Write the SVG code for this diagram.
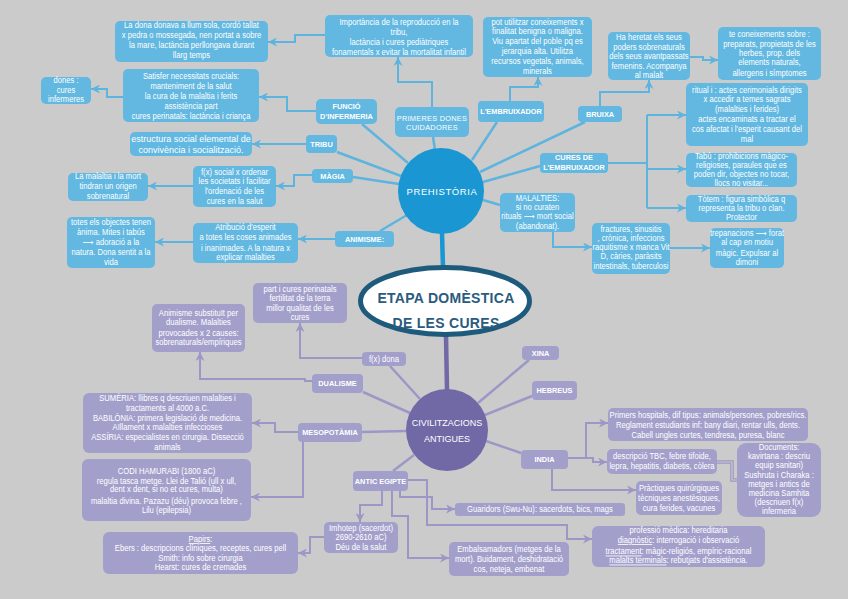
<svg xmlns="http://www.w3.org/2000/svg" width="848" height="599" viewBox="0 0 848 599">
<defs>
<style>
.bn{fill:#62b8e1}
.pn{fill:#a39fcb}
.cb{fill:none;stroke:#5db4de;stroke-width:2}
.cp{fill:none;stroke:#9c97c6;stroke-width:2}
.sb{fill:none;stroke:#5db4de;stroke-width:2.5}
.sp{fill:none;stroke:#9c97c6;stroke-width:2.5}
text{font-family:"Liberation Sans",Arial,"DejaVu Sans",sans-serif;fill:#fff;text-anchor:middle}
.t{font-size:8.3px;transform-box:fill-box;transform-origin:center;transform:scaleX(.92)}
.lb{font-size:8px;font-weight:bold;transform-box:fill-box;transform-origin:center;transform:scaleX(.92)}
.lr{font-size:8px;letter-spacing:.3px;transform-box:fill-box;transform-origin:center;transform:scaleX(.92)}
.u{text-decoration:underline}
</style>
<marker id="ab" viewBox="0 0 10 10" refX="10" refY="5" markerWidth="9" markerHeight="9" markerUnits="userSpaceOnUse" orient="auto"><path d="M0,0 L10,5 L0,10 L3,5 z" fill="#5db4de"/></marker>
<marker id="ap" viewBox="0 0 10 10" refX="10" refY="5" markerWidth="9" markerHeight="9" markerUnits="userSpaceOnUse" orient="auto"><path d="M0,0 L10,5 L0,10 L3,5 z" fill="#9c97c6"/></marker>
</defs>
<rect width="848" height="599" fill="#cbcbcb"/>

<g id="connectors">
<line class="sb" x1="435" y1="150" x2="433" y2="137"/>
<line class="sb" x1="362" y1="124" x2="408" y2="163"/>
<line class="sb" x1="337" y1="152" x2="401" y2="176"/>
<line class="sb" x1="353" y1="177" x2="399" y2="184"/>
<line class="sb" x1="380" y1="231" x2="407" y2="215"/>
<line class="sb" x1="497" y1="122" x2="472" y2="160"/>
<line class="sb" x1="585" y1="122" x2="480" y2="172"/>
<line class="sb" x1="540" y1="166" x2="483" y2="182"/>
<line class="sb" x1="500" y1="205" x2="483" y2="200"/>
<line x1="442" y1="233" x2="443" y2="268" stroke="#1a96d2" stroke-width="4.5"/>
<path class="cb" marker-end="url(#ab)" d="M432,107 V82 H398 V57"/>
<path class="cb" marker-end="url(#ab)" d="M325,35 H295 V42 H268"/>
<path class="cb" marker-end="url(#ab)" d="M316,111 H287 V97 H259"/>
<path class="cb" marker-end="url(#ab)" d="M123,97 H107 V89 H91"/>
<path class="cb" marker-end="url(#ab)" d="M306,144 H252"/>
<path class="cb" marker-end="url(#ab)" d="M312,175 H294 V186 H276"/>
<path class="cb" marker-end="url(#ab)" d="M193,186 H148"/>
<path class="cb" marker-end="url(#ab)" d="M335,239 H298"/>
<path class="cb" marker-end="url(#ab)" d="M193,242 H155"/>
<path class="cb" marker-end="url(#ab)" d="M510,101 V87 H538 V77"/>
<path class="cb" marker-end="url(#ab)" d="M600,106 V92 H649 V80"/>
<path class="cb" marker-end="url(#ab)" d="M690,57 H703 V60 H718"/>
<path class="cb" d="M608,163 H647 M647,115 V208"/>
<path class="cb" marker-end="url(#ab)" d="M647,115 H686"/>
<path class="cb" marker-end="url(#ab)" d="M647,169 H686"/>
<path class="cb" marker-end="url(#ab)" d="M647,208 H686"/>
<path class="cb" marker-end="url(#ab)" d="M553,232 V247 H592"/>
<path class="cb" marker-end="url(#ab)" d="M670,248 H710"/>
<line class="sp" x1="390" y1="366" x2="420" y2="399"/>
<line class="sp" x1="363" y1="392" x2="410" y2="413"/>
<line class="sp" x1="362" y1="432" x2="406" y2="431"/>
<line class="sp" x1="393" y1="471" x2="414" y2="455"/>
<line class="sp" x1="521" y1="453" x2="486" y2="441"/>
<line class="sp" x1="532" y1="396" x2="485" y2="415"/>
<line class="sp" x1="529" y1="360" x2="478" y2="403"/>
<line x1="446" y1="336" x2="447" y2="390" stroke="#7168a6" stroke-width="4.5"/>
<path class="cp" marker-end="url(#ap)" d="M362,358 H300 V323"/>
<path class="cp" marker-end="url(#ap)" d="M312,381 H305 V379 H200 V352"/>
<path class="cp" marker-end="url(#ap)" d="M298,432 H275 V423 H252"/>
<path class="cp" marker-end="url(#ap)" d="M303,442 V497 H251"/>
<path class="cp" marker-end="url(#ap)" d="M382,491 V505 H360 V522"/>
<path class="cp" marker-end="url(#ap)" d="M324,537 H310 V553 H298"/>
<path class="cp" marker-end="url(#ap)" d="M400,491 V497 H432 V509 H455"/>
<path class="cp" marker-end="url(#ap)" d="M392,491 V516 H408 V558 H449"/>
<path class="cp" marker-end="url(#ap)" d="M408,480 H427 V525 H567 V539 H592"/>
<path class="cp" marker-end="url(#ap)" d="M568,458 H586 V423 H608"/>
<path class="cp" marker-end="url(#ap)" d="M586,458 H593 V462 H607"/>
<path class="cp" marker-end="url(#ap)" d="M552,469 V490 H636"/>
<path d="M717,462 H732 V480 H737" fill="none" stroke="#9c97c6" stroke-width="3.5"/>
<path d="M717,462 H732 V480 H737" fill="none" stroke="#cbcbcb" stroke-width="1.2"/>
</g>

<g id="prehistoria"><circle cx="441" cy="191" r="43" fill="#1a96d2"/><text x="442" y="195" style="font-size:9.5px;letter-spacing:.6px">PREHISTÒRIA</text></g>

<g id="central"><ellipse cx="445" cy="301" rx="84.5" ry="33.5" fill="#fff" stroke="#1e5a7c" stroke-width="5"/>
<text style="font-size:14px;font-weight:bold;letter-spacing:.3px;fill:#2a5b7e"><tspan x="446" y="302.5">ETAPA DOMÈSTICA</tspan><tspan x="446" y="327.5">DE LES CURES</tspan></text></g>

<g id="primeres"><rect class="bn" x="395" y="107" width="74" height="30" rx="5"/><text class="lr"><tspan x="432" y="121.5">PRIMERES DONES</tspan><tspan x="432" y="130.5">CUIDADORES</tspan></text></g>
<g id="importancia"><rect class="bn" x="325" y="15" width="148" height="42" rx="5"/><text class="t"><tspan x="399" y="25.5">Importància de la reproducció en la</tspan><tspan x="399" y="35.2">tribu,</tspan><tspan x="399" y="44.9">lactància i cures pediàtriques</tspan><tspan x="399" y="54.6">fonamentals x evitar la mortalitat infantil</tspan></text></g>
<g id="ladona"><rect class="bn" x="115" y="21" width="153" height="41" rx="5"/><text class="t"><tspan x="191.5" y="28.5">La dona donava a llum sola, cordó tallat</tspan><tspan x="191.5" y="38.5">x pedra o mossegada, nen portat a sobre</tspan><tspan x="191.5" y="48.5">la mare, lactància perllongava durant</tspan><tspan x="191.5" y="58.5">llarg temps</tspan></text></g>
<g id="funcio"><rect class="bn" x="316" y="99" width="61" height="25" rx="5"/><text class="lb"><tspan x="346.5" y="109.5">FUNCIÓ</tspan><tspan x="346.5" y="119.5">D'INFERMERIA</tspan></text></g>
<g id="satisfer"><rect class="bn" x="123" y="69" width="136" height="53" rx="5"/><text class="t"><tspan x="191" y="79.5">Satisfer necessitats crucials:</tspan><tspan x="191" y="89">manteniment de la salut</tspan><tspan x="191" y="99">la cura de la malaltia i ferits</tspan><tspan x="191" y="109">assistència part</tspan><tspan x="191" y="119.5">cures perinatals: lactància i criança</tspan></text></g>
<g id="dones"><rect class="bn" x="41" y="77" width="50" height="27" rx="5"/><text class="t"><tspan x="66" y="83.5">dones :</tspan><tspan x="66" y="93">cures</tspan><tspan x="66" y="102.5">infermeres</tspan></text></g>
<g id="tribu"><rect class="bn" x="306" y="135" width="31" height="18" rx="4"/><text class="lb" x="321.5" y="147">TRIBU</text></g>
<g id="estructura"><rect class="bn" x="130" y="132" width="122" height="24" rx="5"/><text style="font-size:9px"><tspan x="191" y="141.5">estructura social elemental de</tspan><tspan x="191" y="153">convivència i socialització.</tspan></text></g>
<g id="magia"><rect class="bn" x="312" y="169" width="41" height="14" rx="4"/><text class="lb" x="332.5" y="179">MÀGIA</text></g>
<g id="fxsocial"><rect class="bn" x="193" y="166" width="83" height="41" rx="5"/><text class="t"><tspan x="234.5" y="175.5">f(x) social x ordenar</tspan><tspan x="234.5" y="184.5">les societats i facilitar</tspan><tspan x="234.5" y="194.5">l'ordenació de les</tspan><tspan x="234.5" y="204.5">cures en la salut</tspan></text></g>
<g id="lamalaltia"><rect class="bn" x="68" y="173" width="80" height="28" rx="5"/><text class="t"><tspan x="108" y="179">La malaltia i la mort</tspan><tspan x="108" y="189">tindran un origen</tspan><tspan x="108" y="199">sobrenatural</tspan></text></g>
<g id="animisme"><rect class="bn" x="335" y="231" width="59" height="16" rx="4"/><text class="lb" x="364.5" y="242">ANIMISME:</text></g>
<g id="atribucio"><rect class="bn" x="193" y="223" width="105" height="40" rx="5"/><text class="t"><tspan x="245.5" y="230.5">Atribució d'esperit</tspan><tspan x="245.5" y="240.5">a totes les coses animades</tspan><tspan x="245.5" y="251">i inanimades. A la natura x</tspan><tspan x="245.5" y="260.5">explicar malalties</tspan></text></g>
<g id="totes"><rect class="bn" x="67" y="217" width="88" height="51" rx="5"/><text class="t"><tspan x="111" y="225.5">totes els objectes tenen</tspan><tspan x="111" y="235.5">ànima. Mites i tabús</tspan><tspan x="111" y="245.5">⟶ adoració a la</tspan><tspan x="111" y="255.5">natura. Dona sentit a la</tspan><tspan x="111" y="265.5">vida</tspan></text></g>
<g id="embruixador"><rect class="bn" x="478" y="101" width="66" height="21" rx="4"/><text class="lb" x="511" y="114.5">L'EMBRUIXADOR</text></g>
<g id="potutilitzar"><rect class="bn" x="483" y="17" width="109" height="60" rx="5"/><text class="t"><tspan x="537.5" y="25.5">pot utilitzar coneixements x</tspan><tspan x="537.5" y="34.5">finalitat benigna o maligna.</tspan><tspan x="537.5" y="44.5">Viu apartat del poble pq es</tspan><tspan x="537.5" y="54.5">jerarquia alta. Utilitza</tspan><tspan x="537.5" y="64.5">recursos vegetals, animals,</tspan><tspan x="537.5" y="74.5">minerals</tspan></text></g>
<g id="bruixa"><rect class="bn" x="578" y="106" width="44" height="16" rx="4"/><text class="lb" x="600" y="117">BRUIXA</text></g>
<g id="haheretat"><rect class="bn" x="608" y="32" width="82" height="48" rx="5"/><text class="t"><tspan x="649" y="40.5">Ha heretat els seus</tspan><tspan x="649" y="50">poders sobrenaturals</tspan><tspan x="649" y="59.5">dels seus avantpassats</tspan><tspan x="649" y="69">femenins. Acompanya</tspan><tspan x="649" y="78">al malalt</tspan></text></g>
<g id="tecon"><rect class="bn" x="718" y="27" width="103" height="53" rx="5"/><text class="t"><tspan x="769.5" y="37">te coneixements sobre :</tspan><tspan x="769.5" y="47">preparats, propietats de les</tspan><tspan x="769.5" y="56">herbes, prop. dels</tspan><tspan x="769.5" y="65.5">elements naturals,</tspan><tspan x="769.5" y="76">allergens i símptomes</tspan></text></g>
<g id="curesde"><rect class="bn" x="540" y="153" width="68" height="20" rx="4"/><text class="lb"><tspan x="574" y="160.5">CURES DE</tspan><tspan x="574" y="170.5">L'EMBRUIXADOR</tspan></text></g>
<g id="ritual"><rect class="bn" x="686" y="83" width="122" height="63" rx="5"/><text class="t"><tspan x="747" y="93">ritual i : actes cerimonials dirigits</tspan><tspan x="747" y="102.5">x accedir a temes sagrats</tspan><tspan x="747" y="112.5">(malalties i ferides)</tspan><tspan x="747" y="122.5">actes encaminats a tractar el</tspan><tspan x="747" y="132.5">cos afectat i l'esperit causant del</tspan><tspan x="747" y="142">mal</tspan></text></g>
<g id="tabu"><rect class="bn" x="686" y="153" width="111" height="34" rx="5"/><text class="t"><tspan x="741.5" y="159.5">Tabú : prohibicions màgico-</tspan><tspan x="741.5" y="168.5">religioses, paraules que es</tspan><tspan x="741.5" y="177">poden dir, objectes no tocar,</tspan><tspan x="741.5" y="186">llocs no visitar...</tspan></text></g>
<g id="totem"><rect class="bn" x="686" y="195" width="111" height="27" rx="5"/><text class="t"><tspan x="741.5" y="202">Tòtem : figura simbòlica q</tspan><tspan x="741.5" y="211">representa la tribu o clan.</tspan><tspan x="741.5" y="220">Protector</tspan></text></g>
<g id="malalties"><rect class="bn" x="500" y="193" width="75" height="39" rx="5"/><text class="t"><tspan x="537.5" y="201">MALALTIES:</tspan><tspan x="537.5" y="210">si no curaten</tspan><tspan x="537.5" y="219.5">rituals ⟶ mort social</tspan><tspan x="537.5" y="229.5">(abandonat).</tspan></text></g>
<g id="fractures"><rect class="bn" x="592" y="223" width="78" height="51" rx="5"/><text class="t"><tspan x="631" y="232">fractures, sinusitis</tspan><tspan x="631" y="241">, crònica, infeccions</tspan><tspan x="631" y="250.5">raquitisme x manca Vit</tspan><tspan x="631" y="259.5">D, càries, paràsits</tspan><tspan x="631" y="269">intestinals, tuberculosi</tspan></text></g>
<g id="trepanacions"><rect class="bn" x="710" y="228" width="74" height="40" rx="5"/><text class="t"><tspan x="747" y="236">trepanacions ⟶ forat</tspan><tspan x="747" y="245">al cap en motiu</tspan><tspan x="747" y="256">màgic. Expulsar al</tspan><tspan x="747" y="265.5">dimoni</tspan></text></g>

<g id="civilitzacions"><circle cx="447" cy="430" r="41" fill="#7168a6"/><text style="font-size:9px"><tspan x="447" y="425.5">CIVILITZACIONS</tspan><tspan x="447" y="441.5">ANTIGUES</tspan></text></g>
<g id="fxdona"><rect class="pn" x="362" y="352" width="44" height="14" rx="4"/><text class="t" x="384" y="362">f(x) dona</text></g>
<g id="partcures"><rect class="pn" x="253" y="283" width="94" height="40" rx="5"/><text class="t"><tspan x="300" y="292">part i cures perinatals</tspan><tspan x="300" y="301">fertilitat de la terra</tspan><tspan x="300" y="311">millor qualitat de les</tspan><tspan x="300" y="320.5">cures</tspan></text></g>
<g id="dualisme"><rect class="pn" x="312" y="374" width="51" height="19" rx="4"/><text class="lb" x="337.5" y="386.5">DUALISME</text></g>
<g id="animsubst"><rect class="pn" x="152" y="304" width="93" height="48" rx="5"/><text class="t"><tspan x="198.5" y="316">Animisme substituït per</tspan><tspan x="198.5" y="325.5">dualisme. Malalties</tspan><tspan x="198.5" y="336">provocades x 2 causes:</tspan><tspan x="198.5" y="345.5">sobrenaturals/empíriques</tspan></text></g>
<g id="mesopotamia"><rect class="pn" x="298" y="423" width="64" height="19" rx="4"/><text class="lb" x="330" y="435.5">MESOPOTÀMIA</text></g>
<g id="sumeria"><rect class="pn" x="83" y="393" width="169" height="60" rx="6"/><text class="t"><tspan x="167.5" y="401">SUMÈRIA: llibres q descriuen malalties i</tspan><tspan x="167.5" y="411">tractaments al 4000 a.C.</tspan><tspan x="167.5" y="421">BABILÒNIA: primera legislació de medicina.</tspan><tspan x="167.5" y="430.5">Aïllament x malalties infeccioses</tspan><tspan x="167.5" y="440.5">ASSÍRIA: especialistes en cirurgia. Dissecció</tspan><tspan x="167.5" y="450.5">animals</tspan></text></g>
<g id="codi"><rect class="pn" x="82" y="459" width="169" height="62" rx="6"/><text class="t"><tspan x="166.5" y="474">CODI HAMURABI (1800 aC)</tspan><tspan x="166.5" y="484">regula tasca metge. Llei de Talió (ull x ull,</tspan><tspan x="166.5" y="492.5">dent x dent, si no et cures, multa)</tspan><tspan x="166.5" y="504.5">malaltia divina. Pazazu (déu) provoca febre ,</tspan><tspan x="166.5" y="513.5">Lilu (epilepsia)</tspan></text></g>
<g id="anticegipte"><rect class="pn" x="353" y="471" width="55" height="20" rx="4"/><text class="lb" x="380.5" y="484.5">ANTIC EGIPTE</text></g>
<g id="imhotep"><rect class="pn" x="324" y="522" width="74" height="31" rx="5"/><text class="t"><tspan x="361" y="531">Imhotep (sacerdot)</tspan><tspan x="361" y="540">2690-2610 aC)</tspan><tspan x="361" y="550">Déu de la salut</tspan></text></g>
<g id="papirs"><rect class="pn" x="103" y="532" width="195" height="42" rx="6"/><text class="t"><tspan x="200.5" y="542" class="u">Papirs</tspan><tspan>:</tspan><tspan x="200.5" y="551">Ebers : descripcions clíniques, receptes, cures pell</tspan><tspan x="200.5" y="560.5">Smith: info sobre cirurgia</tspan><tspan x="200.5" y="570.5">Hearst: cures de cremades</tspan></text></g>
<g id="guaridors"><rect class="pn" x="455" y="503" width="170" height="13" rx="3"/><text class="t" x="540" y="512.5">Guaridors (Swu-Nu): sacerdots, bics, mags</text></g>
<g id="embalsamadors"><rect class="pn" x="449" y="542" width="120" height="34" rx="5"/><text class="t"><tspan x="509" y="552">Embalsamadors (metges de la</tspan><tspan x="509" y="562">mort). Buidament, deshidratació</tspan><tspan x="509" y="572">cos, neteja, embenat</tspan></text></g>
<g id="xina"><rect class="pn" x="522" y="346" width="37" height="14" rx="4"/><text class="lb" x="540.5" y="356">XINA</text></g>
<g id="hebreus"><rect class="pn" x="532" y="381" width="45" height="19" rx="4"/><text class="lb" x="554.5" y="393.5">HEBREUS</text></g>
<g id="india"><rect class="pn" x="521" y="450" width="47" height="19" rx="4"/><text class="lb" x="544.5" y="462.5">INDIA</text></g>
<g id="hospitals"><rect class="pn" x="608" y="408" width="200" height="33" rx="5"/><text class="t"><tspan x="708" y="418.5">Primers hospitals, dif tipus: animals/persones, pobres/rics.</tspan><tspan x="708" y="428">Reglament estudiants inf: bany diari, rentar ulls, dents.</tspan><tspan x="708" y="438">Cabell ungles curtes, tendresa, puresa, blanc</tspan></text></g>
<g id="descripcio"><rect class="pn" x="607" y="449" width="110" height="25" rx="5"/><text class="t"><tspan x="662" y="459">descripció TBC, febre tifoide,</tspan><tspan x="662" y="469.5">lepra, hepatitis, diabetis, còlera</tspan></text></g>
<g id="documents"><rect class="pn" x="737" y="443" width="84" height="74" rx="9"/><text class="t"><tspan x="779" y="450">Documents:</tspan><tspan x="779" y="459.5">kavirtana : descriu</tspan><tspan x="779" y="468.5">equip sanitari)</tspan><tspan x="779" y="478">Sushruta i Charaka :</tspan><tspan x="779" y="487">metges i antics de</tspan><tspan x="779" y="496">medicina Samhita</tspan><tspan x="779" y="505.5">(descriuen f(x)</tspan><tspan x="779" y="514">infermeria</tspan></text></g>
<g id="practiques"><rect class="pn" x="636" y="481" width="86" height="34" rx="5"/><text class="t"><tspan x="679" y="491">Pràctiques quirúrgiques</tspan><tspan x="679" y="501">tècniques anestèsiques,</tspan><tspan x="679" y="511">cura ferides, vacunes</tspan></text></g>
<g id="professio"><rect class="pn" x="592" y="526" width="173" height="41" rx="6"/><text class="t"><tspan x="678.5" y="533.5">professió mèdica: hereditaria</tspan><tspan x="678.5" y="543"><tspan class="u">diagnòstic</tspan>: interrogació i observació</tspan><tspan x="678.5" y="554.5"><tspan class="u">tractament</tspan>: màgic-religiós, empíric-racional</tspan><tspan x="678.5" y="563.5"><tspan class="u">malalts terminals</tspan>: rebutjats d'assistència.</tspan></text></g>
</svg>
